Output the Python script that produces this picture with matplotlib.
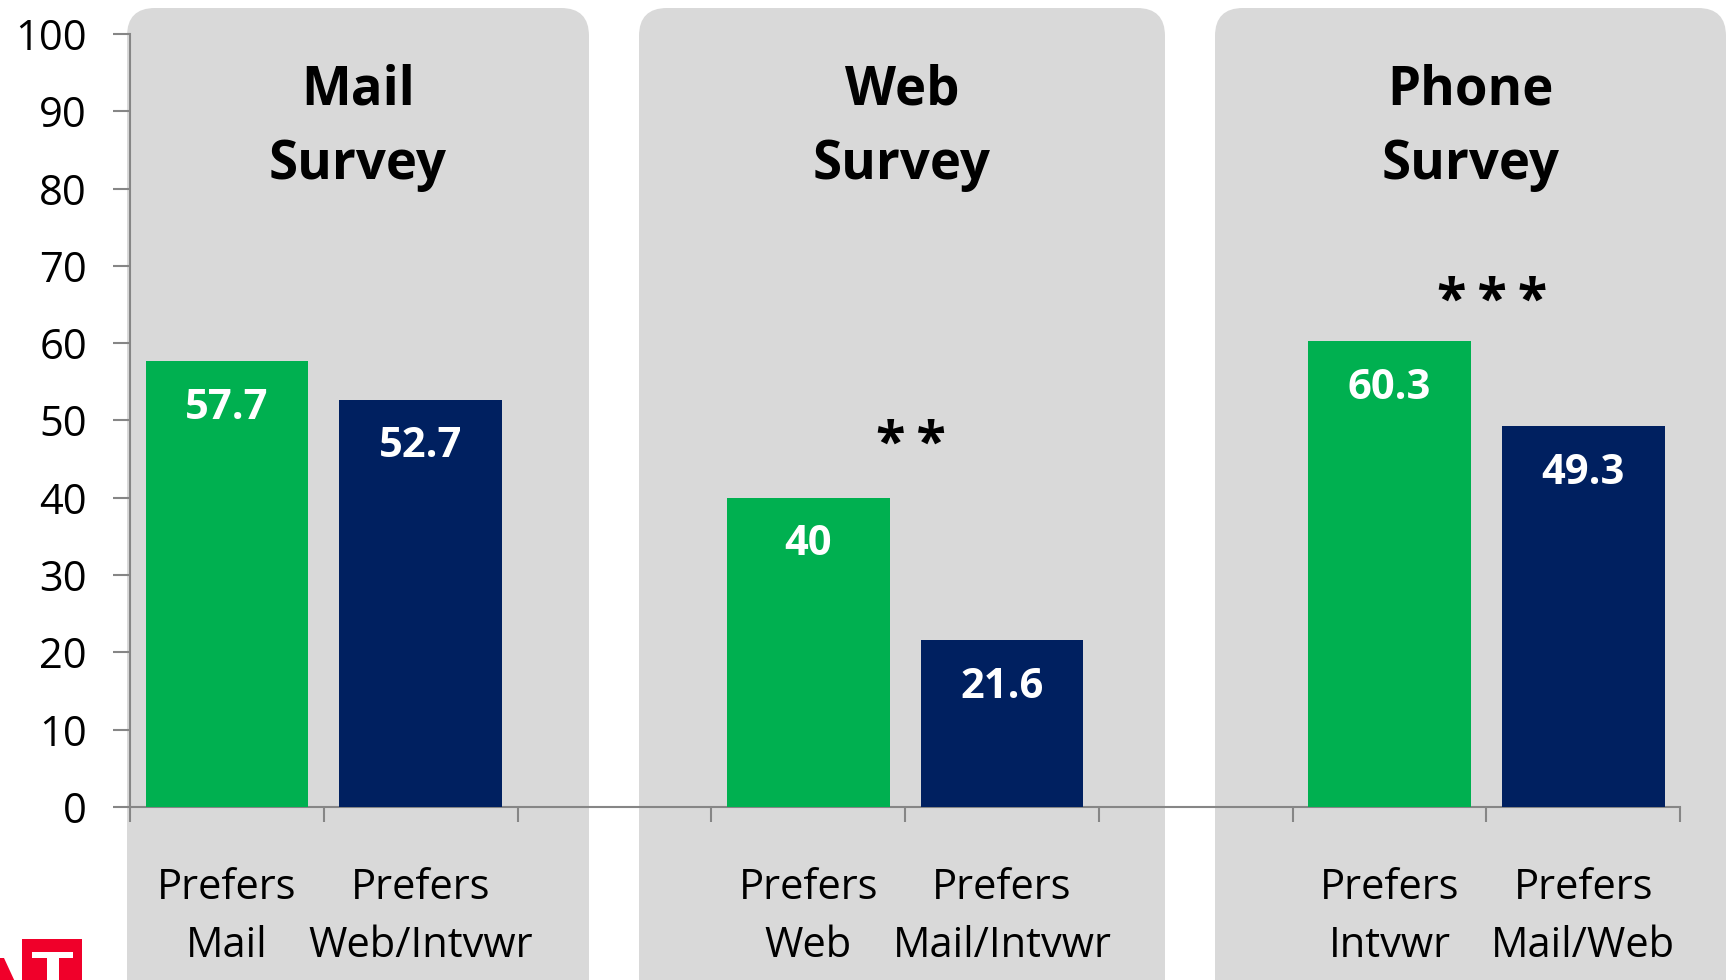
import matplotlib.pyplot as plt
from matplotlib.patches import FancyBboxPatch, Rectangle, Polygon
import numpy as np

plt.rcParams['font.family'] = ['Open Sans', 'DejaVu Sans']

# data
groups = ['Mail\nSurvey', 'Web\nSurvey', 'Phone\nSurvey']
categories = ['Prefers\nMail', 'Prefers\nWeb/Intvwr',
              'Prefers\nWeb', 'Prefers\nMail/Intvwr',
              'Prefers\nIntvwr', 'Prefers\nMail/Web']
slots = [0, 1, 3, 4, 6, 7]
values = [57.7, 52.7, 40, 21.6, 60.3, 49.3]
value_labels = ['57.7', '52.7', '40', '21.6', '60.3', '49.3']
signif = ['', '*\u2009*', '*\u2009*\u2009*']
signif_y = [None, 46.7, 65.2]

GREEN = '#00B050'
NAVY = '#002060'
PANEL = '#D9D9D9'
AXIS = '#868686'

W, H = 1727, 980
fig = plt.figure(figsize=(W / 100, H / 100), dpi=100)

# background layer in pixel units for panels, titles and logo
bg = fig.add_axes([0, 0, 1, 1], zorder=0)
bg.set_xlim(0, W)
bg.set_ylim(H, 0)
bg.axis('off')

panels = [(127, 589), (639, 1165), (1215, 1726)]
for (x0, x1), title in zip(panels, groups):
    bg.add_patch(FancyBboxPatch((x0 + 28, 8 + 28), x1 - x0 - 56, 1010,
                                boxstyle='round,pad=28,rounding_size=28',
                                fc=PANEL, ec='none'))
    bg.text((x0 + x1) / 2, 128, title, ha='center', va='center',
            fontsize=38, fontweight='bold', linespacing=1.5)

# partial red logo, bottom-left
bg.add_patch(Rectangle((22, 939), 60, 45, fc='#F0002A', ec='none'))
bg.add_patch(Rectangle((32, 952), 41, 6, fc='white', ec='none'))
bg.add_patch(Rectangle((47, 957), 12, 30, fc='white', ec='none'))
bg.add_patch(Polygon([(0, 958), (4, 958), (16, 984), (0, 984)],
                     fc='#F0002A', ec='none'))

ax = fig.add_axes([130 / W, 1 - 807 / H, 1550 / W, 773 / H], zorder=1)
ax.patch.set_alpha(0)

colors = [GREEN, NAVY] * 3
ax.bar(slots, values, width=0.84, color=colors, zorder=3)
for x, v, lab in zip(slots, values, value_labels):
    ax.text(x, v - 6.1, lab, ha='center', va='center', color='white',
            fontsize=30, fontweight='bold', zorder=4)

for i, (s, y) in enumerate(zip(signif, signif_y)):
    if s:
        ax.text(slots[2 * i] + 0.53, y, s, ha='center', va='center',
                fontsize=39, fontweight='bold')

ax.set_xlim(-0.5, 7.5)
ax.set_ylim(0, 100)
ax.set_yticks(np.arange(0, 101, 10))
ax.tick_params(axis='y', labelsize=30, length=12, width=1.5, color=AXIS, pad=19)

ax.set_xticks(np.arange(-0.5, 8, 1))
ax.set_xticklabels([])
ax.set_xticks(slots, categories, minor=True)
ax.tick_params(axis='x', which='major', length=11, width=1.5, color=AXIS)
ax.tick_params(axis='x', which='minor', length=0, labelsize=30, pad=43)
for t in ax.get_xticklabels(minor=True):
    t.set_linespacing(1.5)

for side in ['top', 'right']:
    ax.spines[side].set_visible(False)
for side in ['left', 'bottom']:
    ax.spines[side].set_color(AXIS)
    ax.spines[side].set_linewidth(1.5)

fig.savefig('out.png', dpi=100)
